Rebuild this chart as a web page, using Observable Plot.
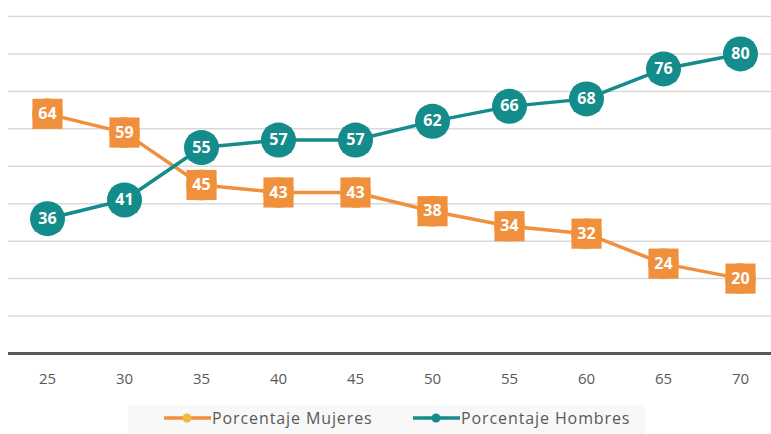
<!DOCTYPE html>
<html><head><meta charset="utf-8">
<script src="https://cdn.jsdelivr.net/npm/d3@7"></script>
<script src="https://cdn.jsdelivr.net/npm/@observablehq/plot@0.6"></script>
<style>
body{margin:0;background:#fff;font-family:"Open Sans",sans-serif;}
#legend{position:relative;height:39px;}
#legend .box{position:absolute;left:128px;top:10px;width:517px;height:29px;background:#f8f8f8;}
#legend .item{position:absolute;top:12px;display:flex;align-items:center;font-size:16px;letter-spacing:0.9px;color:#595959;}
</style></head>
<body>
<div id="chart"></div>
<div id="legend"><div class="box"></div></div>
<script>
const ages = [25,30,35,40,45,50,55,60,65,70];
const mujeres = [64,59,45,43,43,38,34,32,24,20];
const hombres = [36,41,55,57,57,62,66,68,76,80];
const gridValues = [10,20,30,40,50,60,70,80,90];
const seriesNames = ["Porcentaje Mujeres","Porcentaje Hombres"];
const orange = "#F0903D", teal = "#148C8B";

const data = [];
ages.forEach((a,i)=>{data.push({age:a,v:mujeres[i],s:seriesNames[0]});});
ages.forEach((a,i)=>{data.push({age:a,v:hombres[i],s:seriesNames[1]});});
const muj = data.filter(d=>d.s===seriesNames[0]);
const hom = data.filter(d=>d.s===seriesNames[1]);

const plot = Plot.plot({
  width:771, height:395,
  marginLeft:8, marginRight:0, marginTop:16, marginBottom:42,
  style:{fontFamily:'"Open Sans",sans-serif', background:"#fff"},
  x:{type:"point", domain:ages, range:[8,778], padding:0.5, label:null, axis:null},
  y:{domain:[0,90], axis:null, label:null},
  marks:[
    Plot.ruleY(gridValues,{stroke:"#d9d9d9", strokeWidth:1.5}),
    Plot.ruleY([0],{stroke:"#595959", strokeWidth:3}),
    Plot.axisX({tickSize:0, tickPadding:20, fontSize:15, color:"#595959", label:null}),
    Plot.line(muj,{x:"age",y:"v",stroke:orange,strokeWidth:3.5}),
    Plot.line(hom,{x:"age",y:"v",stroke:teal,strokeWidth:3.5}),
    Plot.dot(muj,{x:"age",y:"v",r:15.5,fill:"#F5B13D"}),
    Plot.dot(muj,{x:"age",y:"v",symbol:"square",r:17,fill:orange}),
    Plot.dot(hom,{x:"age",y:"v",symbol:"square",r:14.5,fill:teal}),
    Plot.dot(hom,{x:"age",y:"v",r:17.5,fill:teal}),
    Plot.text(data,{x:"age",y:"v",text:d=>String(d.v),fill:"#fff",fontSize:16,fontWeight:"bold"})
  ]
});
document.getElementById("chart").appendChild(plot);

const leg = document.getElementById("legend");
const items = [{name:seriesNames[0],c:orange,m:"#F5B83D",left:163},{name:seriesNames[1],c:teal,m:teal,left:412}];
items.forEach(it=>{
  const d=document.createElement("div");d.className="item";d.style.left=it.left+"px";
  d.innerHTML=`<svg width="49" height="14"><line x1="1" x2="48" y1="7" y2="7" stroke="${it.c}" stroke-width="3.5"/><circle cx="24" cy="7" r="4.5" fill="${it.m}"/></svg><span>${it.name}</span>`;
  leg.appendChild(d);
});
</script>
</body></html>
